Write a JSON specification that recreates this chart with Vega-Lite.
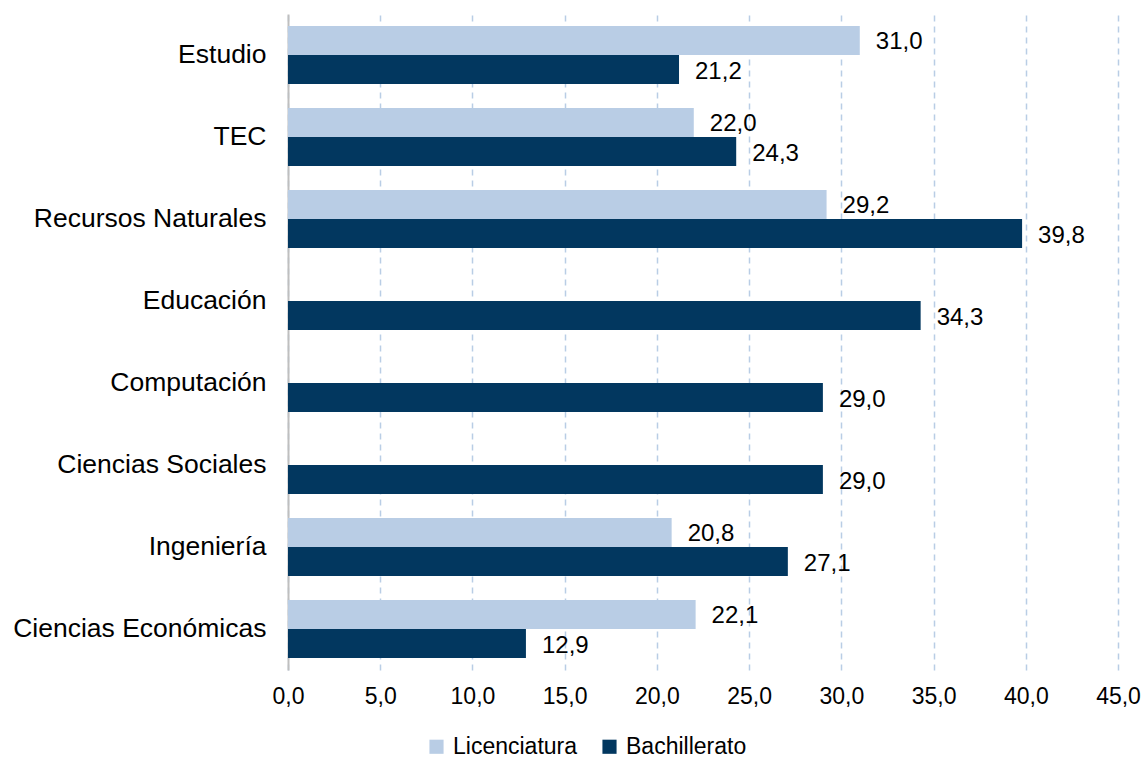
{
  "$schema": "https://vega.github.io/schema/vega-lite/v6.json",
  "autosize": {"type": "none"},
  "width": 830,
  "height": 656,
  "padding": {"left": 288, "top": 14, "right": 26, "bottom": 89},
  "background": "white",
  "config": {
    "locale": {"number": {"decimal": ",", "thousands": ".", "grouping": [3], "currency": ["", ""]}},
    "font": "Liberation Sans",
    "view": {"stroke": null}
  },
  "data": {
    "values": [
      {"area": "Estudio", "serie": "Licenciatura", "valor": 31.0},
      {"area": "Estudio", "serie": "Bachillerato", "valor": 21.2},
      {"area": "TEC", "serie": "Licenciatura", "valor": 22.0},
      {"area": "TEC", "serie": "Bachillerato", "valor": 24.3},
      {"area": "Recursos Naturales", "serie": "Licenciatura", "valor": 29.2},
      {"area": "Recursos Naturales", "serie": "Bachillerato", "valor": 39.8},
      {"area": "Educación", "serie": "Bachillerato", "valor": 34.3},
      {"area": "Computación", "serie": "Bachillerato", "valor": 29.0},
      {"area": "Ciencias Sociales", "serie": "Bachillerato", "valor": 29.0},
      {"area": "Ingeniería", "serie": "Licenciatura", "valor": 20.8},
      {"area": "Ingeniería", "serie": "Bachillerato", "valor": 27.1},
      {"area": "Ciencias Económicas", "serie": "Licenciatura", "valor": 22.1},
      {"area": "Ciencias Económicas", "serie": "Bachillerato", "valor": 12.9}
    ]
  },
  "encoding": {
    "y": {
      "field": "area", "type": "nominal",
      "sort": ["Estudio", "TEC", "Recursos Naturales", "Educación", "Computación", "Ciencias Sociales", "Ingeniería", "Ciencias Económicas"],
      "scale": {"paddingInner": 0.29, "paddingOuter": 0.145},
      "axis": {
        "title": null, "ticks": false, "labelFontSize": 26.5, "labelColor": "#000000",
        "labelPadding": 22, "domainColor": "#BFBFBF", "domainWidth": 2, "labelLimit": 300
      }
    },
    "yOffset": {"field": "serie", "type": "nominal", "scale": {"domain": ["Licenciatura", "Bachillerato"], "paddingInner": 0}},
    "x": {
      "field": "valor", "type": "quantitative",
      "scale": {"domain": [0, 45], "nice": false},
      "axis": {
        "title": null, "values": [0, 5, 10, 15, 20, 25, 30, 35, 40, 45], "format": ".1f",
        "domain": false, "ticks": false, "labelFontSize": 23, "labelColor": "#000000", "labelPadding": 15,
        "grid": true, "gridColor": "#B9CDE5", "gridDash": [6, 5], "gridWidth": 1.5, "labelFlush": false
      }
    }
  },
  "layer": [
    {
      "mark": {"type": "bar"},
      "encoding": {
        "color": {
          "field": "serie", "type": "nominal",
          "scale": {"domain": ["Licenciatura", "Bachillerato"], "range": ["#B9CDE5", "#02375F"]},
          "legend": {
            "title": null, "orient": "none", "direction": "horizontal", "legendX": 137, "legendY": 721,
            "symbolType": "square", "symbolSize": 200, "symbolStrokeWidth": 0, "labelFontSize": 23, "labelColor": "#000000",
            "columnPadding": 20, "labelOffset": 5
          }
        }
      }
    },
    {
      "mark": {"type": "text", "align": "left", "baseline": "middle", "dx": 16, "dy": 2, "fontSize": 24, "color": "#000000"},
      "encoding": {"text": {"field": "valor", "type": "quantitative", "format": ".1f"}}
    }
  ]
}
